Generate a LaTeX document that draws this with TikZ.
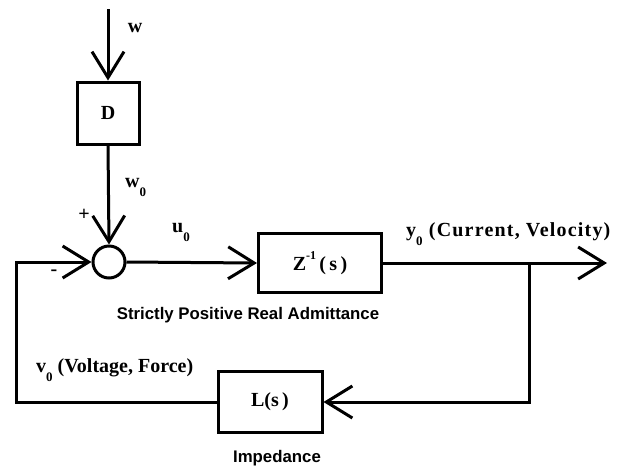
\documentclass[tikz,border=0pt]{standalone}
\usepackage{fontspec}
\setmainfont{Liberation Serif}
\newfontfamily\hsans{Liberation Sans}
\usetikzlibrary{arrows.meta}
\newcommand\lsub[1]{\raisebox{-0.45em}{\fontsize{13}{13}\selectfont #1}}
\newcommand\lsup[1]{\raisebox{0.55em}{\fontsize{12}{12}\selectfont #1}}
\begin{document}
\begin{tikzpicture}[x=1pt,y=-1pt,
  conn/.style={line width=3pt},
  arr/.style={conn,-{Straight Barb[length=26pt,width=32pt,line width=3pt]}},
  blk/.style={draw,line width=3pt,inner sep=0pt,font=\fontsize{20}{20}\selectfont\bfseries},
  lbl/.style={inner sep=0pt,font=\fontsize{20}{20}\selectfont\bfseries},
  slbl/.style={inner sep=0pt,font=\fontsize{16.8}{16.8}\selectfont\hsans\bfseries}]
\useasboundingbox (0,0) rectangle (621,467);
% blocks
\node[blk,minimum width=62pt,minimum height=62pt] (D) at (108,113) {D};
\node[draw,circle,line width=3pt,minimum size=32pt,inner sep=0pt] (S) at (109,262) {};
\node[blk,minimum width=123pt,minimum height=59pt] (Z) at (320,263) {Z\lsup{-1}\,(\,s\,)};
\node[blk,minimum width=104pt,minimum height=61pt] (L) at (270,402) {L(s\,)};
% coordinates
\coordinate (top) at (108,9);
\coordinate (out) at (607,263);
\coordinate (br) at (529,263);
\coordinate (fb) at (16,402);
% connectors
\draw[arr] (top) -- (D.north);
\draw[arr] (D.south) -- (S.north);
\draw[arr] (S.east) -- (Z.west);
\draw[arr] (Z.east) -- (out);
\draw[arr] (br) |- (L.east);
\draw[arr] (L.west) -- (fb) |- (S.west);
% labels
\node[lbl] (lw) at (135,28) {w};
\node[lbl,anchor=base west] (lw0) at (125,187) {w\lsub{0}};
\node[lbl] (lplus) at (84,215) {+};
\node[lbl] (lminus) at (54,273) {-};
\node[lbl,anchor=base west] (lu0) at (172,232) {u\lsub{0}};
\node[lbl,anchor=base west,font=\fontsize{20}{20}\selectfont\bfseries\addfontfeature{LetterSpace=6}] (ly0) at (406,236) {y\lsub{0} (Current, Velocity)};
\node[lbl,anchor=base west] (lv0) at (36,372) {v\lsub{0} (Voltage, Force)};
\node[slbl] (ladm) at (248,315) {Strictly Positive Real Admittance};
\node[slbl] (limp) at (277,458) {Impedance};
\end{tikzpicture}
\end{document}
